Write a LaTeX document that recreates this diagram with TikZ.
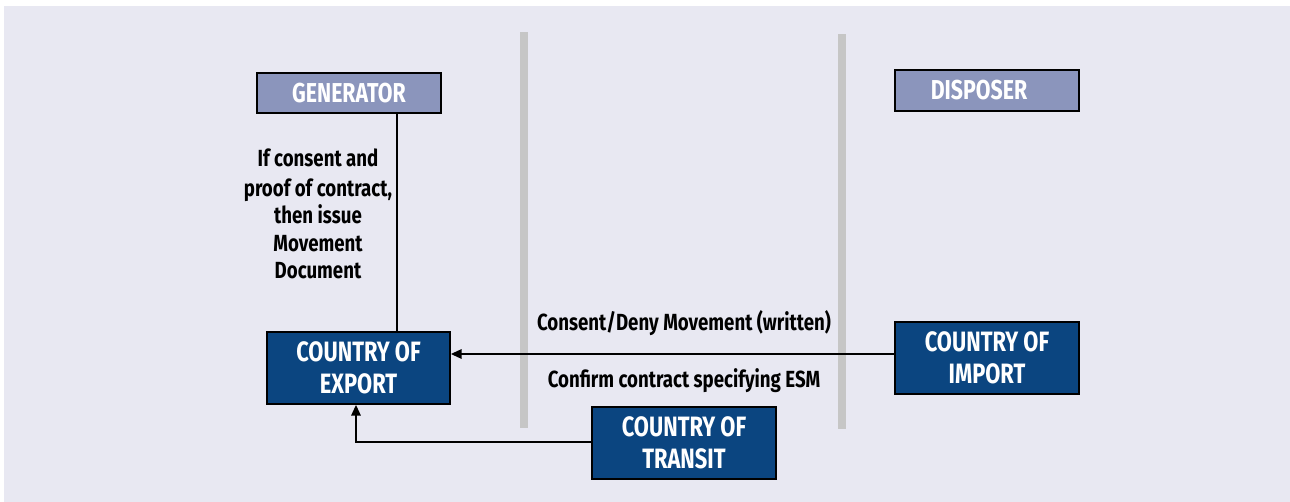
\documentclass[tikz,border=0pt]{standalone}
\usepackage{fontspec}
\setmainfont{Fira Sans}[FakeStretch=0.78]
\newfontfamily\notefont{Fira Sans}[FakeStretch=0.8]
\usetikzlibrary{arrows.meta}
\definecolor{panel}{HTML}{E8E8F2}
\definecolor{navy}{HTML}{0B4580}
\definecolor{slate}{HTML}{8B95BC}
\definecolor{divider}{HTML}{C6C6C6}
\tikzset{
  role/.style={draw=black, line width=1.3pt, fill=slate, text=white,
    font=\fontsize{20.5}{22}\selectfont\bfseries, inner sep=0pt},
  country/.style={draw=black, line width=1.3pt, fill=navy, text=white,
    font=\fontsize{21}{24}\selectfont\bfseries, align=center, inner sep=0pt},
  note/.style={text=black, font=\notefont\fontsize{17.5}{20.5}\selectfont\bfseries, align=center, inner sep=0pt},
  flow/.style={draw=black, line width=1.3pt},
  tip/.style={-{Triangle[length=8pt,width=7pt]}},
}
\begin{document}
\begin{tikzpicture}[x=0.75pt,y=-0.75pt]
  % page and panel
  \fill[white] (0,0) rectangle (1290,502);
  \useasboundingbox (0,0) rectangle (1290,502);
  \fill[panel] (4,6) rectangle (1290,502);

  % column dividers
  \fill[divider] (520,32) rectangle (528,428);
  \fill[divider] (838,34) rectangle (846,429);

  % parties
  \node[role, minimum width=184*0.75pt, minimum height=40*0.75pt] (gen) at (349,93) {GENERATOR};
  \node[role, minimum width=184*0.75pt, minimum height=41*0.75pt] (disp) at (987,90.5) {DISPOSER\hspace*{12pt}};

  % countries
  \node[country, minimum width=183*0.75pt, minimum height=72*0.75pt] (exp) at (358.5,368) {COUNTRY OF\\EXPORT};
  \node[country, minimum width=184*0.75pt, minimum height=72*0.75pt] (imp) at (987,358) {COUNTRY OF\\IMPORT};
  \node[country, minimum width=184*0.75pt, minimum height=72*0.75pt] (tra) at (684,443) {COUNTRY OF\\TRANSIT};

  % connectors
  \coordinate (genfoot) at (397,113);
  \coordinate (exptop) at (397,332);
  \draw[flow] (genfoot) -- (exptop);
  \draw[flow, tip] (imp.west |- 0,354) -- (exp.east |- 0,354);
  \coordinate (bend) at (356,442);
  \draw[flow, tip] (tra.west |- bend) -- (bend) -- (exp.south -| bend);

  % labels
  \node[note] (issue) at (318,214) {If consent and\\[2pt]proof of contract,\\then issue\\Movement\\Document};
  \node[note] (consent) at (684,323) {Consent/Deny Movement (written)};
  \node[note] (confirm) at (684,381) {Confirm contract specifying ESM};
\end{tikzpicture}
\end{document}
